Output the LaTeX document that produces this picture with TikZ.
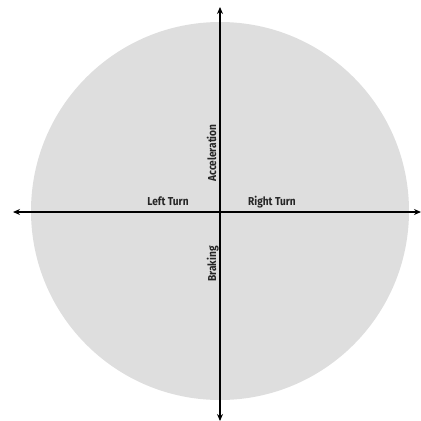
\documentclass[tikz,border=0pt]{standalone}
\usepackage{fontspec}
\setmainfont{Fira Sans}[FakeStretch=0.88]
\usetikzlibrary{arrows.meta}
\begin{document}
\begin{tikzpicture}[x=1pt,y=-1pt,
  axis/.style={line width=1.3pt,-{Stealth[length=7pt,width=6pt]}},
  lbl/.style={font=\fontsize{11.5}{13}\selectfont\bfseries, inner sep=0pt, text=black!85},
]
\useasboundingbox (0,0) rectangle (421,421);
\fill[black!13] (220,211) circle[radius=189];
\coordinate (c) at (220,212);
\coordinate (l) at (13,212);
\coordinate (r) at (421,212);
\coordinate (t) at (220,7);
\coordinate (b) at (220,421);
\draw[axis] (c) -- (l);
\draw[axis] (c) -- (r);
\draw[axis] (c) -- (t);
\draw[axis] (c) -- (b);
\node[lbl, anchor=base] (lt) at (168,205) {Left Turn};
\node[lbl, anchor=base] (rt) at (272,205) {Right Turn};
\node[lbl, anchor=base, rotate=90] (acc) at (216,153) {Acceleration};
\node[lbl, anchor=base, rotate=90] (brk) at (216,264) {Braking};
\end{tikzpicture}
\end{document}
